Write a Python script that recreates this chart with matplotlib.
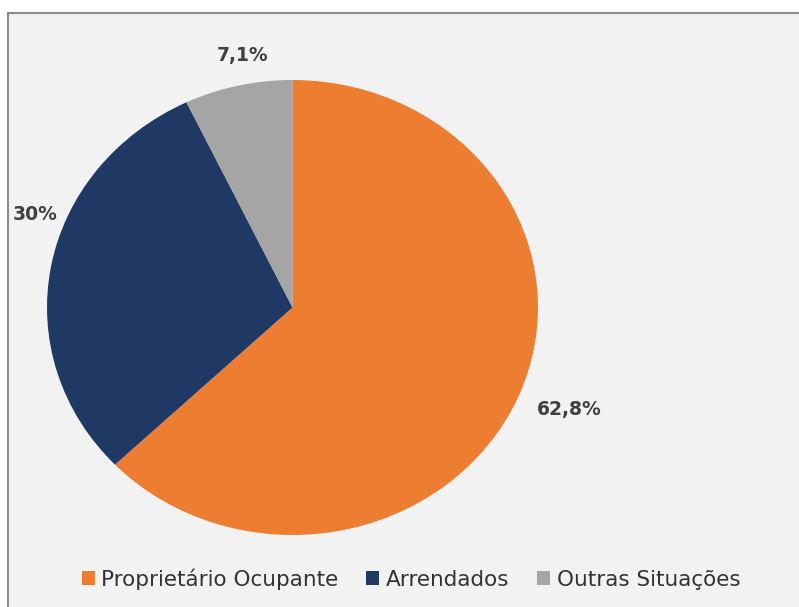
import matplotlib.pyplot as plt
from matplotlib.patches import Rectangle, Patch

categories = ["Proprietário Ocupante", "Arrendados", "Outras Situações"]
values = [62.8, 30.0, 7.1]
labels = ["62,8%", "30%", "7,1%"]
colors = ["#ED7D31", "#203864", "#A5A5A5"]

# label positions in pixels (x from left, y from top), like Excel's best fit
label_pos = [(569, 410), (35, 214), (243, 56)]

W, H = 799, 607
# the reference pie is slightly squashed vertically
rx, ry = 245.5, 227.5
k = rx / ry

fig = plt.figure(figsize=(W / 100, H / 100), dpi=100)
fig.patch.set_facecolor("white")
ax = fig.add_axes([0, 0, 1, 1])


def py(y):
    # pixel row from top -> data y
    return (H - y) * k


# chart area background with border
ax.add_patch(Rectangle((7.5, py(H + 5)), W + 10, py(12.5) - py(H + 5),
                       facecolor="#F2F2F2", edgecolor="#8C8C8C",
                       linewidth=1.5, zorder=0))

ax.pie(values, colors=colors, startangle=90, counterclock=False,
       center=(292.5, py(307.5)), radius=rx,
       wedgeprops=dict(linewidth=0), frame=True)
ax.set_aspect("auto")
ax.set_xlim(0, W)
ax.set_ylim(0, H * k)
ax.axis("off")

for txt, (x, y) in zip(labels, label_pos):
    ax.text(x, py(y), txt, ha="center", va="center", fontsize=13.5,
            fontweight="bold", color="#404040")

handles = [Patch(facecolor=c, edgecolor="none") for c in colors]
ax.legend(handles, categories, loc="center", bbox_to_anchor=(411 / W, 1 - 579 / H),
          ncol=3, frameon=False, fontsize=15.5, handlelength=0.6, handleheight=0.6,
          handletextpad=0.3, columnspacing=1.3, labelcolor="#333333")

fig.savefig("out.png", dpi=100)
